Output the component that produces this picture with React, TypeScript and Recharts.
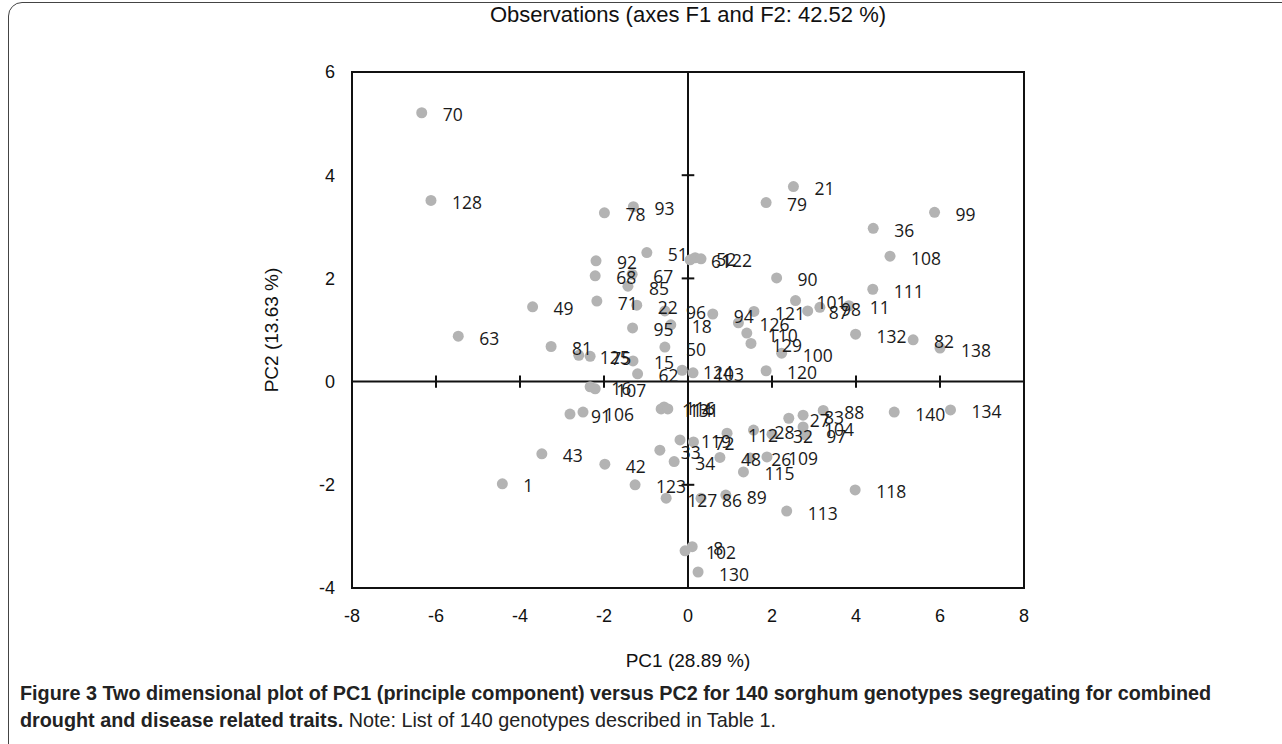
import { ReferenceArea, ReferenceLine, Scatter, ScatterChart, XAxis, YAxis } from "recharts";

// genotype ids and their scores on the first two principal components
const ids = [
  "70", "128", "78", "93", "51", "21", "79", "99", "36", "108",
  "92", "68", "67", "85", "71", "49", "22", "95", "63", "81",
  "125", "75", "15", "62", "50", "96", "18", "94", "61", "52",
  "122", "124", "103", "90", "111", "101", "87", "98", "11", "121",
  "126", "110", "129", "100", "132", "82", "138", "120", "140", "134",
  "88", "83", "27", "104", "97", "112", "28", "32", "48", "26",
  "109", "115", "118", "113", "89", "86", "127", "123", "42", "33",
  "34", "119", "72", "114", "116", "131", "91", "106", "16", "107",
  "43", "1", "102", "8", "130",
];

const pc1 = [
  -6.34, -6.12, -1.99, -1.3, -0.98, 2.51, 1.86, 5.87, 4.41, 4.81,
  -2.19, -2.21, -1.33, -1.43, -2.17, -3.7, -1.22, -1.32, -5.47, -3.26,
  -2.6, -2.33, -1.31, -1.2, -0.55, -0.55, -0.41, 0.59, 0.05, 0.17,
  0.31, -0.14, 0.12, 2.11, 4.4, 2.56, 2.85, 3.14, 3.83, 1.57,
  1.2, 1.4, 1.5, 2.23, 3.99, 5.36, 6.0, 1.86, 4.91, 6.25,
  3.22, 2.74, 2.4, 2.74, 2.79, 0.93, 1.56, 2.0, 0.76, 1.48,
  1.88, 1.32, 3.98, 2.35, 0.9, 0.31, -0.52, -1.26, -1.98, -0.67,
  -0.33, -0.19, 0.13, -0.64, -0.57, -0.48, -2.81, -2.5, -2.33, -2.21,
  -3.48, -4.42, -0.07, 0.1, 0.24,
];

const pc2 = [
  5.21, 3.51, 3.27, 3.39, 2.5, 3.78, 3.47, 3.28, 2.97, 2.43,
  2.34, 2.05, 2.08, 1.85, 1.56, 1.45, 1.48, 1.04, 0.88, 0.68,
  0.51, 0.49, 0.4, 0.15, 0.67, 1.37, 1.1, 1.31, 2.36, 2.4,
  2.38, 0.22, 0.17, 2.01, 1.79, 1.57, 1.37, 1.44, 1.47, 1.36,
  1.14, 0.94, 0.74, 0.55, 0.92, 0.81, 0.65, 0.21, -0.59, -0.55,
  -0.56, -0.65, -0.71, -0.88, -1.03, -1.0, -0.94, -1.02, -1.47, -1.48,
  -1.46, -1.75, -2.1, -2.51, -2.2, -2.26, -2.26, -2.0, -1.6, -1.33,
  -1.55, -1.13, -1.17, -0.53, -0.49, -0.53, -0.63, -0.59, -0.1, -0.14,
  -1.4, -1.98, -3.28, -3.2, -3.69,
];

const xTicks = [-8, -6, -4, -2, 0, 2, 4, 6, 8];
const yTicks = [-4, -2, 0, 2, 4, 6];

const points = ids.map((id, i) => ({ id, x: pc1[i], y: pc2[i] }));

const Dot = (props: any) => (
  <circle cx={props.cx} cy={props.cy} r={5.5} fill="#b3b3b3" />
);

const Tag = (props: any) => (
  <text
    x={props.cx + 21}
    y={props.cy + 8.5}
    fontFamily="'Open Sans', sans-serif"
    fontSize={17.5}
    fill="#1a1a1a"
  >
    {props.payload.id}
  </text>
);

const axisFont = { fontFamily: "'Liberation Sans', Arial, sans-serif", fontSize: 18, fill: "#111" };

export default function App() {
  return (
    <div
      style={{
        position: "absolute",
        left: 0,
        top: 0,
        width: 1282,
        height: 744,
        overflow: "hidden",
        background: "#fff",
      }}
    >
      {/* figure frame */}
      <div
        style={{
          position: "absolute",
          left: 8,
          top: 2,
          width: 1320,
          height: 800,
          border: "1.5px solid #444",
          borderRadius: 14,
        }}
      />

      <div
        style={{
          position: "absolute",
          left: 0,
          top: 2,
          width: 1376,
          textAlign: "center",
          fontFamily: "'Liberation Sans', Arial, sans-serif",
          fontSize: 22,
          color: "#111",
        }}
      >
        Observations (axes F1 and F2: 42.52 %)
      </div>

      <div style={{ position: "absolute", left: 0, top: 0 }}>
        <ScatterChart
          width={1282}
          height={744}
          margin={{ top: 72, right: 258, bottom: 116, left: 292 }}
        >
          <XAxis
            type="number"
            dataKey="x"
            domain={[-8, 8]}
            ticks={xTicks}
            axisLine={false}
            tickLine={false}
            tickSize={0}
            tickMargin={21}
            height={40}
            tick={axisFont}
            allowDataOverflow
          />
          <YAxis
            type="number"
            dataKey="y"
            domain={[-4, 6]}
            ticks={yTicks}
            axisLine={false}
            tickLine={false}
            tickSize={0}
            tickMargin={17}
            width={60}
            tick={axisFont}
            allowDataOverflow
          />
          <ReferenceArea x1={-8} x2={8} y1={-4} y2={6} fill="none" stroke="#111" strokeWidth={2} fillOpacity={0} />
          <ReferenceLine x={0} stroke="#111" strokeWidth={2} />
          <ReferenceLine y={0} stroke="#111" strokeWidth={2} />
          {xTicks
            .filter((t) => t !== 0 && Math.abs(t) !== 8)
            .map((t) => (
              <ReferenceLine
                key={`xt${t}`}
                segment={[{ x: t, y: -0.12 }, { x: t, y: 0.12 }]}
                stroke="#111"
                strokeWidth={2}
              />
            ))}
          {yTicks
            .filter((t) => t !== 0 && t !== -4 && t !== 6)
            .map((t) => (
              <ReferenceLine
                key={`yt${t}`}
                segment={[{ x: -0.15, y: t }, { x: 0.15, y: t }]}
                stroke="#111"
                strokeWidth={2}
              />
            ))}
          <Scatter data={points} shape={Dot} isAnimationActive={false} />
          <Scatter data={points} shape={Tag} isAnimationActive={false} />
        </ScatterChart>
      </div>

      <div
        style={{
          position: "absolute",
          left: 0,
          top: 650,
          width: 1376,
          textAlign: "center",
          fontFamily: "'Liberation Sans', Arial, sans-serif",
          fontSize: 19,
          color: "#111",
        }}
      >
        PC1 (28.89 %)
      </div>

      <div
        style={{
          position: "absolute",
          left: 272,
          top: 330,
          transform: "translate(-50%, -50%) rotate(-90deg)",
          whiteSpace: "nowrap",
          fontFamily: "'Liberation Sans', Arial, sans-serif",
          fontSize: 19,
          color: "#111",
        }}
      >
        PC2 (13.63 %)
      </div>

      <div
        style={{
          position: "absolute",
          left: 20,
          top: 680,
          width: 1260,
          whiteSpace: "nowrap",
          fontFamily: "'Liberation Sans', Arial, sans-serif",
          fontSize: 19.8,
          lineHeight: "27px",
          color: "#222",
        }}
      >
        <b>
          Figure 3 Two dimensional plot of PC1 (principle component) versus PC2 for 140 sorghum genotypes segregating for combined
          <br />
          drought and disease related traits.
        </b>{" "}
        Note: List of 140 genotypes described in Table 1.
      </div>
    </div>
  );
}
